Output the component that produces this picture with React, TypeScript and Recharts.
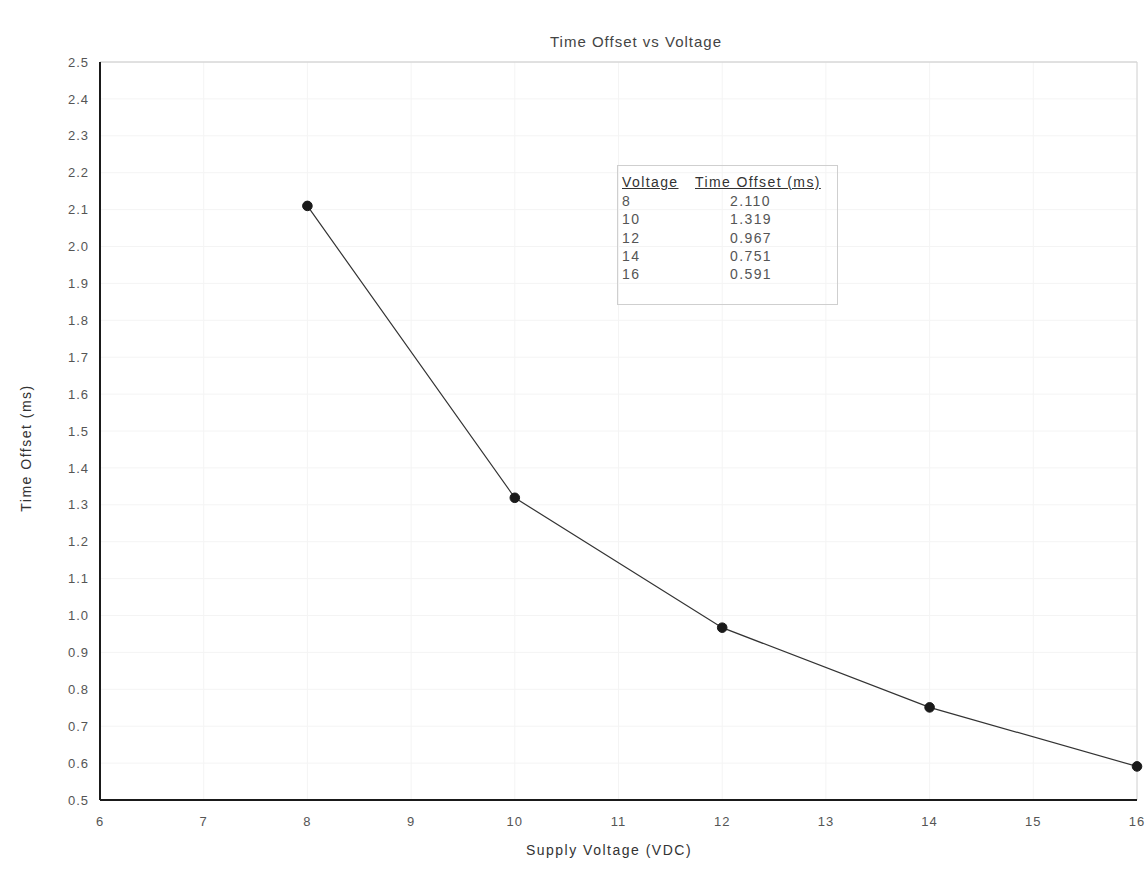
import React from "react";
import {
  LineChart,
  Line,
  XAxis,
  YAxis,
  CartesianGrid,
  ReferenceLine,
} from "recharts";

const voltages = [8, 10, 12, 14, 16];
const timeOffsets = [2.11, 1.319, 0.967, 0.751, 0.591];
const xTicks = [6, 7, 8, 9, 10, 11, 12, 13, 14, 15, 16];
const yTicks = [
  0.5, 0.6, 0.7, 0.8, 0.9, 1.0, 1.1, 1.2, 1.3, 1.4, 1.5, 1.6, 1.7, 1.8, 1.9,
  2.0, 2.1, 2.2, 2.3, 2.4, 2.5,
];
const tableOffsetLabels = ["2.110", "1.319", "0.967", "0.751", "0.591"];

const data = voltages.map((v, i) => ({ voltage: v, offset: timeOffsets[i] }));

const FONT = "'Liberation Sans', Arial, sans-serif";

export default function App() {
  return (
    <div
      style={{
        position: "absolute",
        left: 0,
        top: 0,
        width: 1146,
        height: 869,
        background: "#fff",
        fontFamily: FONT,
      }}
    >
      <LineChart
        width={1146}
        height={869}
        data={data}
        margin={{ top: 62, right: 9, bottom: 0, left: 0 }}
      >
        <CartesianGrid stroke="#f4f4f4" horizontalValues={yTicks} verticalValues={xTicks} />
        <ReferenceLine y={2.5} stroke="#c8c8c8" strokeWidth={1} />
        <ReferenceLine x={16} stroke="#d4d4d4" strokeWidth={1} />
        <XAxis
          dataKey="voltage"
          type="number"
          domain={[6, 16]}
          ticks={xTicks}
          interval={0}
          height={69}
          tickLine={false}
          tickSize={6}
          tickMargin={11}
          axisLine={{ stroke: "#1a1a1a", strokeWidth: 2 }}
          tick={{ fill: "#555", fontSize: 13, fontFamily: FONT, letterSpacing: 1 }}
          label={{
            content: () => (
              <text
                x={609}
                y={855}
                textAnchor="middle"
                fontSize={14}
                fill="#333"
                letterSpacing={1.5}
                fontFamily={FONT}
              >
                Supply Voltage (VDC)
              </text>
            ),
          }}
        />
        <YAxis
          type="number"
          domain={[0.5, 2.5]}
          ticks={yTicks}
          interval={0}
          width={100}
          tickLine={false}
          tickSize={6}
          tickMargin={5}
          tickFormatter={(v: number) => v.toFixed(1)}
          axisLine={{ stroke: "#1a1a1a", strokeWidth: 2 }}
          tick={{ fill: "#555", fontSize: 13, fontFamily: FONT, letterSpacing: 1 }}
          label={{
            content: () => (
              <text
                x={27}
                y={448}
                transform="rotate(-90 27 448)"
                textAnchor="middle"
                dominantBaseline="middle"
                fontSize={14}
                fill="#333"
                letterSpacing={1.5}
                fontFamily={FONT}
              >
                Time Offset (ms)
              </text>
            ),
          }}
        />
        <Line
          type="linear"
          dataKey="offset"
          stroke="#333"
          strokeWidth={1.2}
          dot={{ r: 4.8, fill: "#1a1a1a", stroke: "#1a1a1a", strokeWidth: 1 }}
          activeDot={false}
          isAnimationActive={false}
        />
        <text
          x={636}
          y={47}
          textAnchor="middle"
          fontSize={15}
          fill="#444"
          letterSpacing={1}
          fontFamily={FONT}
        >
          Time Offset vs Voltage
        </text>
      </LineChart>
      <div
        style={{
          position: "absolute",
          left: 617,
          top: 165,
          width: 221,
          height: 140,
          border: "1px solid #cfcfcf",
          boxSizing: "border-box",
          fontSize: 14,
          letterSpacing: 1.4,
          color: "#555",
          fontFamily: FONT,
          lineHeight: "16px",
        }}
      >
        <div style={{ position: "absolute", left: 4, top: 8, textDecoration: "underline", color: "#333" }}>
          Voltage
        </div>
        <div style={{ position: "absolute", left: 77, top: 8, textDecoration: "underline", color: "#333" }}>
          Time Offset (ms)
        </div>
        {voltages.map((v, i) => (
          <React.Fragment key={v}>
            <div style={{ position: "absolute", left: 4, top: 27 + i * 18.3 }}>{v}</div>
            <div style={{ position: "absolute", left: 112, top: 27 + i * 18.3 }}>
              {tableOffsetLabels[i]}
            </div>
          </React.Fragment>
        ))}
      </div>
    </div>
  );
}
